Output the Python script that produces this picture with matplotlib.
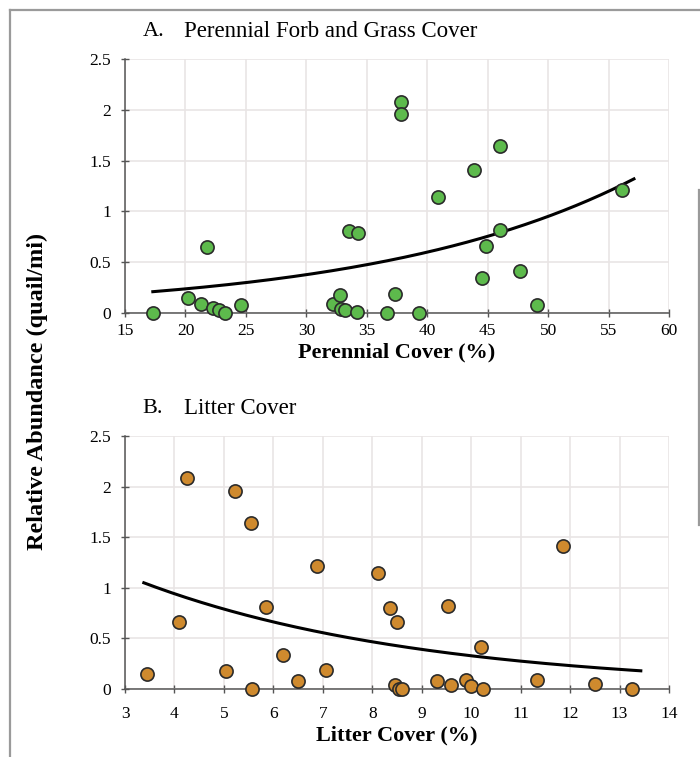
import numpy as np
import matplotlib
matplotlib.use("Agg")
import matplotlib.pyplot as plt
from matplotlib.lines import Line2D

plt.rcParams["font.family"] = ["Liberation Serif", "DejaVu Serif"]

# panel A: perennial forb and grass cover (%) vs relative abundance (quail/mi)
perennial_cover = [17.3, 20.2, 21.3, 21.8, 22.3, 22.75, 23.3, 24.6, 32.2, 32.8,
                   32.9, 33.2, 33.5, 34.3, 34.2, 36.7, 37.3, 37.8, 37.8, 39.3,
                   40.9, 43.9, 44.5, 44.9, 46.0, 46.0, 47.7, 49.1, 56.1]
perennial_abund = [0.0, 0.145, 0.085, 0.65, 0.05, 0.03, 0.0, 0.075, 0.09, 0.18,
                   0.04, 0.03, 0.81, 0.79, 0.01, 0.0, 0.19, 2.08, 1.96, 0.0,
                   1.14, 1.41, 0.34, 0.66, 1.64, 0.82, 0.41, 0.08, 1.21]
# exponential trend y = a * exp(b x), drawn from x0 to x1
trend_a = (0.0944, 0.0462, 17.3, 57.1)

# panel B: litter cover (%)
litter_cover = [3.45, 4.1, 4.25, 5.05, 5.22, 5.55, 5.57, 5.85, 6.2, 6.5,
                6.88, 7.06, 8.12, 8.35, 8.51, 8.46, 8.55, 8.6, 9.3, 9.53,
                9.6, 9.9, 10.0, 10.2, 10.23, 11.33, 11.86, 12.5, 13.26]
litter_abund = [0.15, 0.66, 2.085, 0.18, 1.96, 1.64, 0.0, 0.81, 0.34, 0.08,
                1.215, 0.19, 1.145, 0.8, 0.665, 0.04, 0.0, 0.0, 0.075, 0.82,
                0.04, 0.09, 0.03, 0.415, 0.0, 0.09, 1.415, 0.05, 0.0]
trend_b = (1.90, -0.1755, 3.38, 13.43)

fig = plt.figure(figsize=(7.0, 7.57), dpi=100)

GRID = "#e9e5e5"
SPINE = "#555555"


def panel(rect, x, y, trend, color, xlim, xticks, xlabel, title_letter, title,
          xpad):
    ax = fig.add_axes(rect)
    ax.set_xlim(*xlim)
    ax.set_ylim(0, 2.5)
    ax.set_xticks(xticks)
    ax.set_yticks([0, 0.5, 1, 1.5, 2, 2.5])
    ax.set_yticklabels(["0", "0.5", "1", "1.5", "2", "2.5"])
    ax.grid(True, color=GRID, lw=1.2, zorder=0)
    for s in ("top", "right"):
        ax.spines[s].set_visible(False)
    for s in ("left", "bottom"):
        ax.spines[s].set_color(SPINE)
        ax.spines[s].set_linewidth(1.1)
    ax.tick_params(direction="inout", length=6, width=1, color=SPINE,
                   labelsize=12.5)
    ax.tick_params(axis="y", pad=7)
    ax.tick_params(axis="x", pad=xpad)
    a, b, x0, x1 = trend
    xs = np.linspace(x0, x1, 200)
    ax.plot(xs, a * np.exp(b * xs), color="black", lw=2.2, zorder=3)
    ax.scatter(x, y, s=90, c=color, edgecolors="#2b2b2b", linewidths=1.2,
               zorder=4, clip_on=False)
    ax.set_xlabel(xlabel, fontsize=16, fontweight="bold", labelpad=3)
    pos = ax.get_position()
    fig.text(0.204, pos.y1 + 0.036, title_letter, fontsize=16, va="center")
    fig.text(0.263, pos.y1 + 0.036, title, fontsize=16.5, va="center")
    return ax


panel([0.1786, 0.5865, 0.7771, 0.3355], perennial_cover, perennial_abund,
      trend_a, "#5dba4c", (15, 60), range(15, 61, 5), "Perennial Cover (%)",
      "A.", "Perennial Forb and Grass Cover", 4)
panel([0.1786, 0.0898, 0.7771, 0.3342], litter_cover, litter_abund,
      trend_b, "#cf8a2e", (3, 14), range(3, 15), "Litter Cover (%)",
      "B.", "Litter Cover", 9)

fig.text(0.054, 0.483, "Relative Abundance (quail/mi)", rotation=90,
         fontsize=17.5, fontweight="bold", ha="center", va="center")

# grey frame lines
frame = "#9a9a9a"
fig.add_artist(Line2D([0.0143, 0.0143], [0, 1 - 10 / 757], color=frame, lw=1.6))
fig.add_artist(Line2D([0.0143, 1], [1 - 10 / 757, 1 - 10 / 757], color=frame, lw=1.6))
fig.add_artist(Line2D([0.998, 0.998], [1 - 190 / 757, 1 - 525 / 757], color=frame, lw=1.6))

fig.savefig("out.png", dpi=100)
